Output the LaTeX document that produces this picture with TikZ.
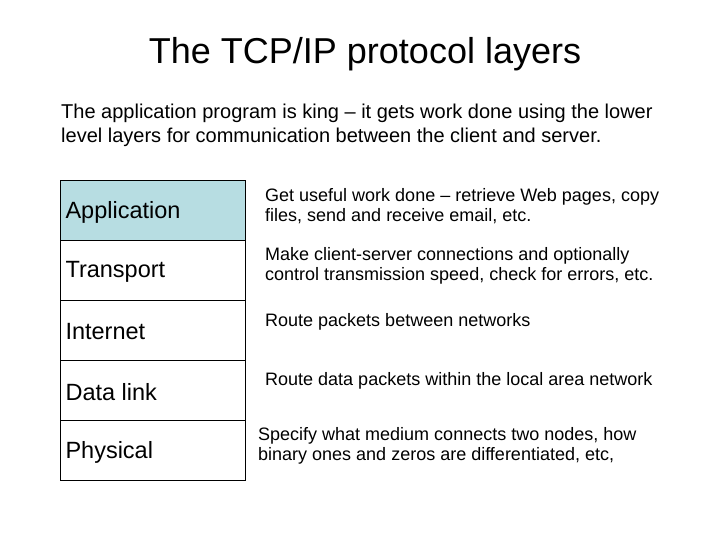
\documentclass[tikz,border=0pt]{standalone}
\usepackage{fontspec}
\setmainfont{Liberation Sans}
\definecolor{appfill}{HTML}{B7DDE2}
\begin{document}
\begin{tikzpicture}[x=1pt,y=-1pt,
  lay/.style={draw,line width=1.4pt,minimum width=185pt,minimum height=60pt,anchor=north west,inner sep=0pt},
  laytxt/.style={anchor=west,font=\fontsize{23.5}{28}\selectfont},
  desc/.style={anchor=west,align=left,font=\fontsize{18}{20.5}\selectfont,inner sep=0pt}]
\useasboundingbox (0,0) rectangle (720,540);
\node[font=\fontsize{36}{42}\selectfont] (title) at (365,54) {The TCP/IP protocol layers};
\node[anchor=north west,align=left,font=\fontsize{20}{24}\selectfont,inner sep=0pt] (intro) at (61,104)
 {The application program is king -- it gets work done using the lower\\level layers for communication between the client and server.};
\node[lay,fill=appfill] (app) at (60,180) {};
\node[lay] (tra) at (60,240) {};
\node[lay] (int) at (60,300) {};
\node[lay] (dl) at (60,360) {};
\node[lay] (phy) at (60,420) {};
\node[laytxt] (tapp) at (62,212) {Application};
\node[laytxt] (ttra) at (62,272) {Transport};
\node[laytxt] (tint) at (62,332) {Internet};
\node[laytxt] (tdl) at (62,392) {Data link};
\node[laytxt] (tphy) at (62,452) {Physical};
\node[desc] (dapp) at (265,206) {Get useful work done -- retrieve Web pages, copy\\files, send and receive email, etc.};
\node[desc] (dtra) at (265,266) {Make client-server connections and optionally\\control transmission speed, check for errors, etc.};
\node[desc] (dint) at (265,322) {Route packets between networks};
\node[desc] (ddl) at (265,381) {Route data packets within the local area network};
\node[desc] (dphy) at (258,446) {Specify what medium connects two nodes, how\\binary ones and zeros are differentiated, etc,};
\end{tikzpicture}
\end{document}
